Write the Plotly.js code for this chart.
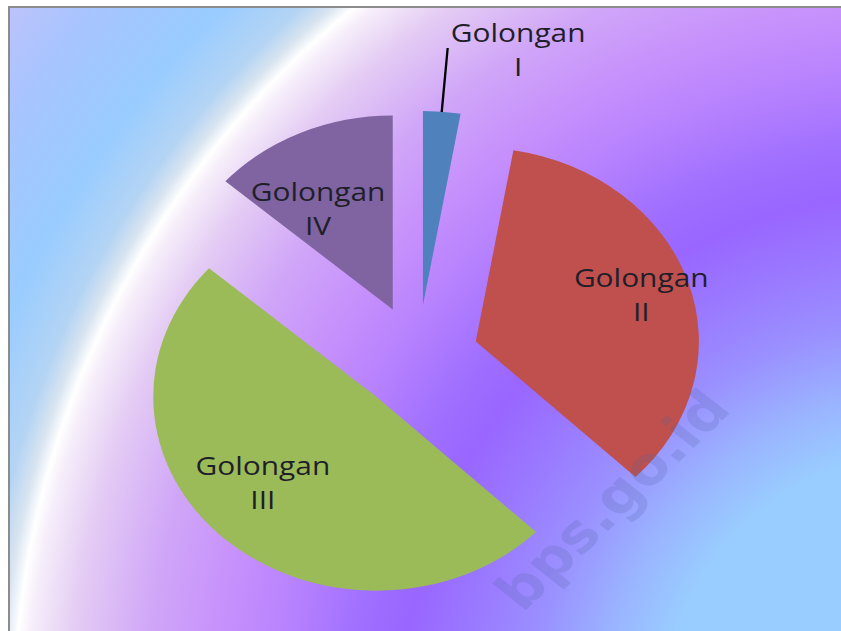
<!DOCTYPE html>
<html>
<head>
<meta charset="utf-8">
<script src="https://cdn.plot.ly/plotly-3.0.1.min.js"></script>
<style>
  html, body { margin: 0; padding: 0; background: #ffffff; width: 841px; height: 631px; overflow: hidden; }
  #bg {
    position: absolute; left: 8px; top: 6px; right: 0; bottom: 0;
    border-left: 2px solid #8c8c8c; border-top: 2px solid #8c8c8c;
    background: radial-gradient(circle at 920px 712px,
      #99CCFF 0px, #99CCFF 270px, #9AB4FF 330px, #9A90FF 400px, #9A78FF 470px,
      #9966FF 530px, #A070FF 580px, #B580FE 640px, #C690FC 710px, #D0A6F8 785px, #E4CCF4 860px,
      #F6EEFA 903px, #FFFFFF 916px, #D8E4F0 930px, #B4D4F4 950px, #99CCFF 1005px,
      #A8C4FF 1100px, #C8C2F8 1200px);
  }
  #chart { position: absolute; left: 0; top: 0; transform: scaleX(1.15); transform-origin: 0 0; }
</style>
</head>
<body>
<div id="bg"></div>
<div id="chart"></div>
<script>
// Data (share of each group, %)
const categories = ['Golongan I', 'Golongan II', 'Golongan III', 'Golongan IV'];
const labelLines = [['Golongan', 'I'], ['Golongan', 'II'], ['Golongan', 'III'], ['Golongan', 'IV']];
const shares = [2.7, 34.6, 49.2, 13.5];
const colors = ['#4F81BD', '#C0504D', '#9BBB59', '#8064A2'];

const SX = 1.15;              // horizontal stretch of the original picture
const W = Math.round(841 / SX);
const H = 631;

// label block centres (paper fractions, layout only)
const labelPos = [[0.6162, 0.9231], [0.7625, 0.5341], [0.3129, 0.2361], [0.3783, 0.6704]];

const trace = {
  type: 'pie',
  labels: categories,
  values: shares,
  sort: false,
  direction: 'clockwise',
  rotation: 0,
  pull: 0.273,
  marker: { colors: colors, line: { width: 0 } },
  textinfo: 'none',
  hoverinfo: 'label+percent',
  showlegend: false,
  domain: { x: [0.1591, 0.8349], y: [0.0415, 0.8244] }
};

const annotations = labelLines.map((lines, i) => ({
  xref: 'paper', yref: 'paper',
  x: labelPos[i][0], y: labelPos[i][1],
  xanchor: 'center', yanchor: 'middle',
  text: lines.join('<br>'),
  showarrow: false,
  align: 'center',
  font: { family: 'Open Sans, sans-serif', size: 26, color: '#1f1f2a' }
}));

// faint site watermark
annotations.push({
  xref: 'paper', yref: 'paper', x: 0.728, y: 0.2076,
  xanchor: 'center', yanchor: 'middle',
  text: 'bps.go.id', textangle: -48, showarrow: false,
  font: { family: 'DejaVu Sans, sans-serif', size: 52, weight: 'bold', color: 'rgba(80,95,160,0.2)' }
});

const layout = {
  width: W, height: H,
  margin: { l: 0, r: 0, t: 0, b: 0 },
  paper_bgcolor: 'rgba(0,0,0,0)',
  plot_bgcolor: 'rgba(0,0,0,0)',
  annotations: annotations,
  shapes: [{
    type: 'line', xref: 'paper', yref: 'paper',
    x0: 389.3 / W, y0: 1 - 48 / H, x1: 384.1 / W, y1: 1 - 112 / H,
    line: { color: '#000000', width: 2 }
  }]
};

Plotly.newPlot('chart', [trace], layout, { displayModeBar: false, staticPlot: true });
</script>
</body>
</html>
